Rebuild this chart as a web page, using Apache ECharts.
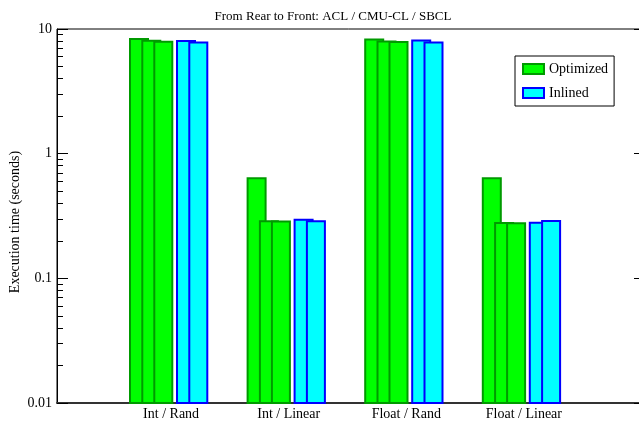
<!DOCTYPE html>
<html>
<head>
<meta charset="utf-8">
<script src="https://cdn.jsdelivr.net/npm/echarts@6/dist/echarts.min.js"></script>
<style>
  html, body { margin: 0; padding: 0; background: #fff; }
  #chart { width: 639px; height: 427px; }
</style>
</head>
<body>
<div id="chart"></div>
<script>
// Benchmark groups along the x axis
const categories = ['Int / Rand', 'Int / Linear', 'Float / Rand', 'Float / Linear'];

// Execution times in seconds, rear to front: ACL / CMU-CL / SBCL
const optimizedAcl  = [8.47, 0.647, 8.40, 0.647];
const optimizedCmu  = [8.20, 0.292, 8.10, 0.283];
const optimizedSbcl = [8.05, 0.291, 8.01, 0.282];
const inlinedCmu    = [8.16, 0.301, 8.25, 0.285];
const inlinedSbcl   = [7.95, 0.292, 7.95, 0.294];

// Log axis ticks
const majorTicks = [0.01, 0.1, 1, 10];
const minorTicks = [0.02, 0.03, 0.04, 0.05, 0.06, 0.07, 0.08, 0.09,
                    0.2, 0.3, 0.4, 0.5, 0.6, 0.7, 0.8, 0.9,
                    2, 3, 4, 5, 6, 7, 8, 9];

const FONT = "'Liberation Serif', 'Times New Roman', serif";
const Y_MIN = 0.01, Y_MAX = 10;

const GREEN = { fill: '#00ff00', stroke: '#009a00' };
const CYAN  = { fill: '#00ffff', stroke: '#0000ff' };

// Each bar sits at a fixed horizontal slot relative to its category tick
function barSeries(name, values, slot, colors, z) {
  return {
    type: 'custom',
    name: name,
    z: z,
    xAxisIndex: 0,
    yAxisIndex: 0,
    itemStyle: { color: colors.fill, borderColor: colors.stroke, borderWidth: 2 },
    data: values.map((v, i) => [i + 1, v]),
    renderItem: function (params, api) {
      const top = api.coord([api.value(0), api.value(1)]);
      const base = api.coord([api.value(0), Y_MIN]);
      const left = top[0] + slot;
      return {
        type: 'rect',
        shape: { x: left + 1, y: top[1] + 1, width: 18, height: base[1] - top[1] - 1 },
        style: { fill: colors.fill, stroke: colors.stroke, lineWidth: 2 }
      };
    }
  };
}

const chart = echarts.init(document.getElementById('chart'), null, { renderer: 'canvas' });

chart.setOption({
  animation: false,
  backgroundColor: '#fff',
  title: {
    text: 'From Rear to Front: ACL / CMU-CL / SBCL',
    left: 328,
    top: 5,
    textAlign: 'center',
    textStyle: { fontFamily: FONT, fontSize: 13, fontWeight: 'normal', color: '#000' }
  },
  grid: {
    left: 57, right: -6, top: 29, bottom: 24,
    outerBoundsMode: 'none',
    containLabel: false,
    show: true, borderColor: '#000', borderWidth: 1, backgroundColor: 'transparent'
  },
  legend: {
    orient: 'vertical',
    left: 515,
    top: 56,
    padding: [6, 6, 6, 7],
    backgroundColor: '#fff',
    borderColor: '#000',
    borderWidth: 1,
    itemWidth: 21,
    itemHeight: 10,
    itemGap: 10,
    icon: 'rect',
    textStyle: { fontFamily: FONT, fontSize: 14, color: '#000', lineHeight: 12 },
    data: [
      { name: 'Optimized', itemStyle: { color: GREEN.fill, borderColor: GREEN.stroke, borderWidth: 2 } },
      { name: 'Inlined', itemStyle: { color: CYAN.fill, borderColor: CYAN.stroke, borderWidth: 2 } }
    ]
  },
  xAxis: {
    type: 'category',
    data: [''].concat(categories, ['']),
    boundaryGap: false,
    axisLine: { lineStyle: { color: '#333', width: 2 } },
    axisTick: { show: false },
    axisLabel: {
      interval: 0,
      margin: 4,
      padding: [0, 7, 0, 0],
      fontFamily: FONT, fontSize: 14, color: '#000'
    },
    splitLine: { show: false }
  },
  yAxis: [
    {
      type: 'log', logBase: 10, min: Y_MIN, max: Y_MAX,
      position: 'left',
      name: 'Execution time (seconds)',
      nameLocation: 'middle',
      nameGap: 35,
      nameRotate: 90,
      nameMoveOverlap: false,
      nameTextStyle: { fontFamily: FONT, fontSize: 14, color: '#000', padding: [0, 12, 0, 0] },
      axisLine: { show: true, lineStyle: { color: '#000', width: 1 } },
      axisTick: { show: true, inside: true, length: 11, customValues: majorTicks, lineStyle: { color: '#000' } },
      axisLabel: {
        margin: 5, fontFamily: FONT, fontSize: 14, color: '#000',
        customValues: majorTicks,
        formatter: v => String(v)
      },
      splitLine: { show: false }
    },
    {
      type: 'log', logBase: 10, min: Y_MIN, max: Y_MAX,
      position: 'left',
      axisLine: { show: false },
      axisTick: { show: true, inside: true, length: 6, customValues: minorTicks, lineStyle: { color: '#000' } },
      axisLabel: { show: false },
      splitLine: { show: false }
    },
    {
      type: 'log', logBase: 10, min: Y_MIN, max: Y_MAX,
      position: 'right',
      axisLine: { show: false },
      axisTick: { show: true, inside: true, length: 11, customValues: majorTicks, lineStyle: { color: '#000' } },
      axisLabel: { show: false },
      splitLine: { show: false }
    }
  ],
  series: [
    barSeries('Optimized', optimizedAcl,  -45.6, GREEN, 1),
    barSeries('Optimized', optimizedCmu,  -33.3, GREEN, 2),
    barSeries('Optimized', optimizedSbcl, -21.3, GREEN, 3),
    barSeries('Inlined',   inlinedCmu,    1.4,   CYAN, 4),
    barSeries('Inlined',   inlinedSbcl,   13.7,  CYAN, 5)
  ]
});
</script>
</body>
</html>
